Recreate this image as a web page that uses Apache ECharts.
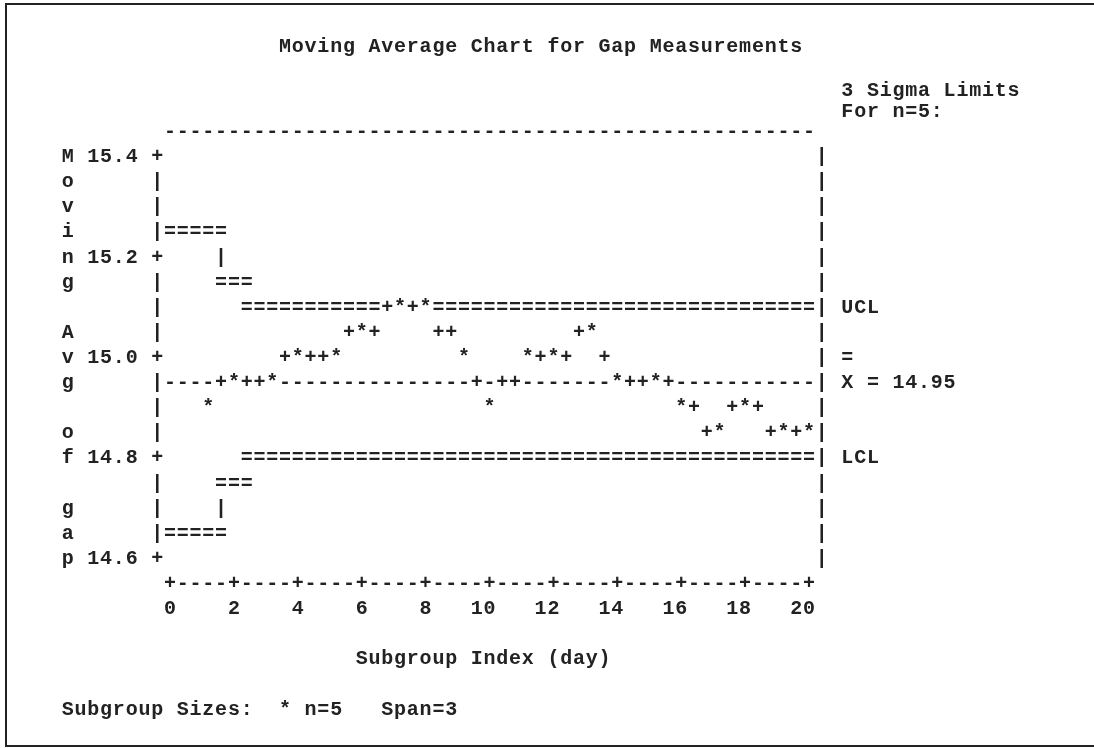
<!DOCTYPE html>
<html>
<head>
<meta charset="utf-8">
<script src="https://cdn.jsdelivr.net/npm/echarts@6/dist/echarts.min.js"></script>
<style>
html,body{margin:0;padding:0;background:#fff;}
#chart{width:1094px;height:748px;}
</style>
</head>
<body>
<div id="chart"></div>
<script>
// ---------------- data ----------------
const days = [1,2,3,4,5,6,7,8,9,10,11,12,13,14,15,16,17,18,19,20];
const movingAvg = [14.90,14.95,14.95,15.00,15.00,15.05,15.10,15.10,15.00,14.90,
                   15.00,15.00,15.05,14.95,14.95,14.90,14.85,14.90,14.85,14.85];
// connecting "+" glyphs as printed between the points
const connectorDays   = [1.6,2.4,2.8,3.6,4.4,4.8,5.6,6.4,6.8,7.6,8.4,8.8,9.6,10.4,10.8,
                         11.6,12.4,12.8,13.6,14.4,14.8,15.6,16.4,16.8,17.6,18.4,18.8,19.6];
const connectorValues = [14.95,14.95,14.95,15.00,15.00,15.00,15.05,15.05,15.10,15.10,15.05,15.05,14.95,14.95,14.95,
                         15.00,15.00,15.05,15.00,14.95,14.95,14.95,14.90,14.85,14.90,14.90,14.85,14.85];
const limitBreaks = [0, 1.5, 2.5, 20];
const uclValues = [15.25, 15.15, 15.10];
const lclValues = [14.65, 14.75, 14.80];
const centerValue = 14.95;
const xTicks = [0,2,4,6,8,10,12,14,16,18,20];
const yTicks = [15.4,15.2,15.0,14.8,14.6];
const yTickLabels = ['15.4','15.2','15.0','14.8','14.6'];
const yAxisTitle = 'Moving Avg of gap';
const xAxisTitle = 'Subgroup Index (day)';
const chartTitle = 'Moving Average Chart for Gap Measurements';
const footerText = 'Subgroup Sizes:  * n=5   Span=3';
const limitsTitle = ['3 Sigma Limits', 'For n=5:'];
const centerLabel = 'X = 14.95';

// ---------------- line-printer character grid ----------------
const COL = 0.4;    // days per printed column
const ROW = 0.05;   // gap units per printed line
const TOP = 15.4;
const FONT = 'bold 20px "Liberation Mono", "DejaVu Sans Mono", monospace';
const INK = '#222';
const GRID_LEFT = 157.2, GRID_W = 664.6;
const COLPX = GRID_W / 52;
const colPx = c => GRID_LEFT + (c + 1) * COLPX;

const snapCol = x => Math.round(x / COL + 1e-9);
const snapRow = v => Math.round((TOP - v) / ROW + 1e-9);
const cx = c => +(c * COL).toFixed(4);
const ry = r => +(TOP - r * ROW).toFixed(4);

const occupied = new Set();
function mark(c, r) { occupied.add(c + ',' + r); }

const starPts = days.map((d, i) => {
  const c = snapCol(d), r = snapRow(movingAvg[i]); mark(c, r);
  return { x: cx(c), y: ry(r), t: '*' };
});
const plusPts = connectorDays.map((d, i) => {
  const c = snapCol(d), r = snapRow(connectorValues[i]); mark(c, r);
  return { x: cx(c), y: ry(r), t: '+' };
});

function limitGlyphs(vals) {
  const out = [], seen = new Set();
  for (let i = 0; i < vals.length; i++) {
    const c0 = snapCol(limitBreaks[i]), c1 = snapCol(limitBreaks[i + 1]);
    const r = snapRow(vals[i]);
    for (let c = c0; c <= c1; c++) {
      const k = c + ',' + r;
      if (!occupied.has(k) && !seen.has(k)) { seen.add(k); out.push({ x: cx(c), y: ry(r), t: '=' }); }
    }
    if (i + 1 < vals.length) {
      const rn = snapRow(vals[i + 1]);
      const lo = Math.min(r, rn), hi = Math.max(r, rn);
      for (let rr = lo + 1; rr < hi; rr++) out.push({ x: cx(c1), y: ry(rr), t: '|' });
    }
  }
  return out;
}
const uclPts = limitGlyphs(uclValues);
const lclPts = limitGlyphs(lclValues);
const centerPts = [];
{
  const r = snapRow(centerValue);
  for (let c = snapCol(0); c <= snapCol(20); c++) {
    if (!occupied.has(c + ',' + r)) centerPts.push({ x: cx(c), y: ry(r), t: '-' });
  }
}

const framePts = [];
const xTickCols = new Set(xTicks.map(snapCol));
const yTickRows = new Set(yTicks.map(snapRow));
const firstCol = snapCol(0), lastCol = snapCol(20);
const firstRow = snapRow(15.4), lastRow = snapRow(14.6);
for (let c = firstCol; c <= lastCol; c++) {
  framePts.push({ x: cx(c), y: ry(firstRow - 1), t: '-' });
  framePts.push({ x: cx(c), y: ry(lastRow + 1), t: xTickCols.has(c) ? '+' : '-' });
}
for (let r = firstRow; r <= lastRow; r++) {
  framePts.push({ x: cx(firstCol - 1), y: ry(r), t: yTickRows.has(r) ? '+' : '|' });
  framePts.push({ x: cx(lastCol + 1), y: ry(r), t: '|' });
}

// labels, printed one character per column
const labelPts = [];
function putString(col, row, str) {
  str.split('').forEach((ch, i) => { if (ch !== ' ') labelPts.push({ x: cx(col + i), y: ry(row), t: ch }); });
}
xTicks.forEach(v => { const s = String(v); putString(snapCol(v) - s.length + 1, lastRow + 2, s); });
yTicks.forEach((v, i) => { const s = yTickLabels[i]; putString(firstCol - 2 - s.length, snapRow(v), s); });
yAxisTitle.split('').forEach((ch, i) => { if (ch !== ' ') labelPts.push({ x: cx(firstCol - 8), y: ry(firstRow + i), t: ch }); });
putString(lastCol + 3, snapRow(uclValues[uclValues.length - 1]), 'UCL');
putString(lastCol + 3, snapRow(lclValues[lclValues.length - 1]), 'LCL');
putString(lastCol + 3, snapRow(centerValue) - 1, '=');
putString(lastCol + 3, snapRow(centerValue), centerLabel);
putString(15, lastRow + 4, xAxisTitle);
putString(firstCol - 8, lastRow + 6, footerText);

function glyphSeries(name, pts) {
  return {
    type: 'custom', name: name, coordinateSystem: 'cartesian2d', clip: false, silent: true,
    data: pts.map(p => [p.x, p.y]),
    renderItem: function (params, api) {
      const p = api.coord([api.value(0), api.value(1)]);
      const g = pts[params.dataIndex];
      return {
        type: 'text', x: p[0], y: p[1],
        style: { text: g.t, font: FONT, fill: INK, align: 'center', verticalAlign: 'middle' }
      };
    }
  };
}

function headerLine(col, y, str) {
  const out = [];
  str.split('').forEach((ch, i) => {
    if (ch !== ' ') out.push({ type: 'text', x: colPx(col + i), y: y,
      style: { text: ch, font: FONT, fill: INK, align: 'center', verticalAlign: 'middle' } });
  });
  return out;
}

const chart = echarts.init(document.getElementById('chart'), null, { renderer: 'canvas' });
chart.setOption({
  backgroundColor: '#fff',
  animation: false,
  grid: { left: GRID_LEFT, right: 1094 - GRID_LEFT - GRID_W, top: 132, bottom: 164, containLabel: false },
  xAxis: { type: 'value', min: -0.4, max: 20.4, show: false },
  yAxis: { type: 'value', min: 14.55, max: 15.45, show: false },
  graphic: [
    { type: 'rect', shape: { x: 6, y: 4, width: 1100, height: 742 }, style: { fill: 'none', stroke: INK, lineWidth: 2 } }
  ].concat(headerLine(9, 47, chartTitle), headerLine(53, 91, limitsTitle[0]), headerLine(53, 112, limitsTitle[1])),
  series: [
    glyphSeries('Frame', framePts),
    glyphSeries('Center', centerPts),
    glyphSeries('UCL', uclPts),
    glyphSeries('LCL', lclPts),
    glyphSeries('Connect', plusPts),
    glyphSeries('Moving Average', starPts),
    glyphSeries('Labels', labelPts)
  ]
});
</script>
</body>
</html>
